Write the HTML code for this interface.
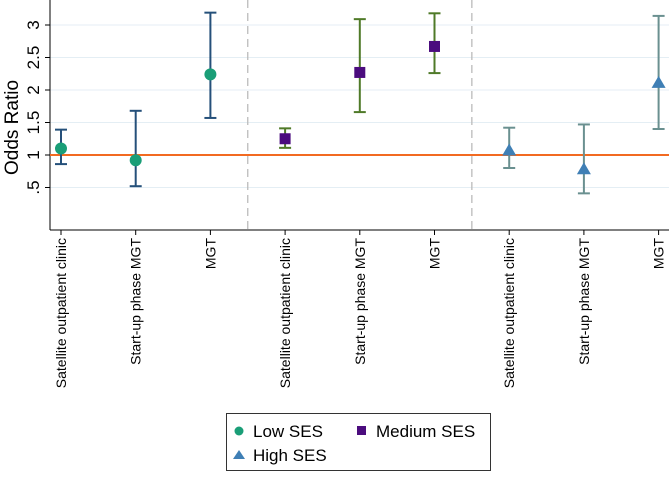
<!DOCTYPE html>
<html><head><meta charset="utf-8"><style>
body{margin:0;background:#fff;font-family:"Liberation Sans",sans-serif;}
</style></head><body>
<svg id="c" width="669" height="473" xmlns="http://www.w3.org/2000/svg"></svg>
<script>
const categories=["Satellite outpatient clinic","Start-up phase MGT","MGT","Satellite outpatient clinic","Start-up phase MGT","MGT","Satellite outpatient clinic","Start-up phase MGT","MGT"];
const groups=["low","low","low","medium","medium","medium","high","high","high"];
const estimates=[1.1,0.92,2.24,1.25,2.27,2.67,1.07,0.78,2.11];
const lowerCI=[0.86,0.52,1.57,1.11,1.66,2.26,0.8,0.41,1.4];
const upperCI=[1.39,1.68,3.19,1.41,3.09,3.18,1.42,1.47,3.14];
const yTicks=[0.5,1,1.5,2,2.5,3];
const yTickLabels=[".5","1","1.5","2","2.5","3"];
const refValue=1;
const NS="http://www.w3.org/2000/svg";
const svg=document.getElementById('c');
const y=v=>220-65*v;
const x=i=>61+i*74.7;
function mk(t,a,p){const e=document.createElementNS(NS,t);for(const k in a)e.setAttribute(k,a[k]);(p||svg).appendChild(e);return e;}
const style={low:{ci:"#25507a",m:"#1a9e77"},medium:{ci:"#4f7a28",m:"#4b0c7e"},high:{ci:"#6a9090",m:"#3f7fb5"}};
yTicks.forEach((v,i)=>{
 let g=mk('line',{x1:50,x2:669,y1:y(v),y2:y(v),stroke:"#e4eef4","stroke-width":1});
 
 let t=mk('line',{x1:45,x2:50,y1:y(v),y2:y(v),stroke:"#000"});
 
 let l=mk('text',{x:0,y:0,"font-size":17,"text-anchor":"middle",transform:`translate(39,${y(v)}) rotate(-90)`});
 l.textContent=yTickLabels[i];
 
});
let yt=mk('text',{x:0,y:0,"font-size":19,"text-anchor":"middle",transform:`translate(18,${y(1.5)+5}) rotate(-90)`});
yt.textContent="Odds Ratio";
[1,2].forEach(k=>{let d=mk('line',{x1:(x(3*k-1)+x(3*k))/2,x2:(x(3*k-1)+x(3*k))/2,y1:0,y2:230,stroke:"#bbb","stroke-dasharray":"8,5","stroke-width":1.3});
 });
let ya=mk('line',{x1:50,x2:50,y1:0,y2:230,stroke:"#000"});
let xa=mk('line',{x1:50,x2:669,y1:230,y2:230,stroke:"#000"});
let rl=mk('line',{x1:50,x2:669,y1:y(refValue),y2:y(refValue),stroke:"#f26a21","stroke-width":2});

categories.forEach((c,i)=>{
 let t=mk('line',{x1:x(i),x2:x(i),y1:230,y2:235,stroke:"#000"});
 let l=mk('text',{x:0,y:0,"font-size":14,"text-anchor":"end",transform:`translate(${x(i)+5},238) rotate(-90)`});
 l.textContent=c;
 const s=style[groups[i]];
 const g=mk('g',{});
 mk('line',{x1:x(i),x2:x(i),y1:y(lowerCI[i]),y2:y(upperCI[i]),stroke:s.ci,"stroke-width":2},g);
 mk('line',{x1:x(i)-6,x2:x(i)+6,y1:y(lowerCI[i]),y2:y(lowerCI[i]),stroke:s.ci,"stroke-width":2},g);
 mk('line',{x1:x(i)-6,x2:x(i)+6,y1:y(upperCI[i]),y2:y(upperCI[i]),stroke:s.ci,"stroke-width":2},g);
 let m,cx=x(i),cy=y(estimates[i]);
 if(groups[i]=="low")m=mk('circle',{cx,cy,r:6,fill:s.m});
 else if(groups[i]=="medium")m=mk('rect',{x:cx-5.5,y:cy-5.5,width:11,height:11,fill:s.m});
 else m=mk('polygon',{points:`${cx},${cy-7} ${cx+7},${cy+5} ${cx-7},${cy+5}`,fill:s.m});
 
});
const lg=mk('g',{});
mk('rect',{x:226.5,y:413.5,width:264,height:57,fill:"#fff",stroke:"#333"},lg);
mk('circle',{cx:239,cy:431,r:4.5,fill:style.low.m},lg);
let t1=mk('text',{x:253,y:437,"font-size":17},lg);t1.textContent="Low SES";
mk('rect',{x:357,y:426,width:9,height:9,fill:style.medium.m},lg);
let t2=mk('text',{x:376,y:437,"font-size":17},lg);t2.textContent="Medium SES";
mk('polygon',{points:"239,450 245,459 233,459",fill:style.high.m},lg);
let t3=mk('text',{x:253,y:461,"font-size":17},lg);t3.textContent="High SES";
</script>
</body></html>
